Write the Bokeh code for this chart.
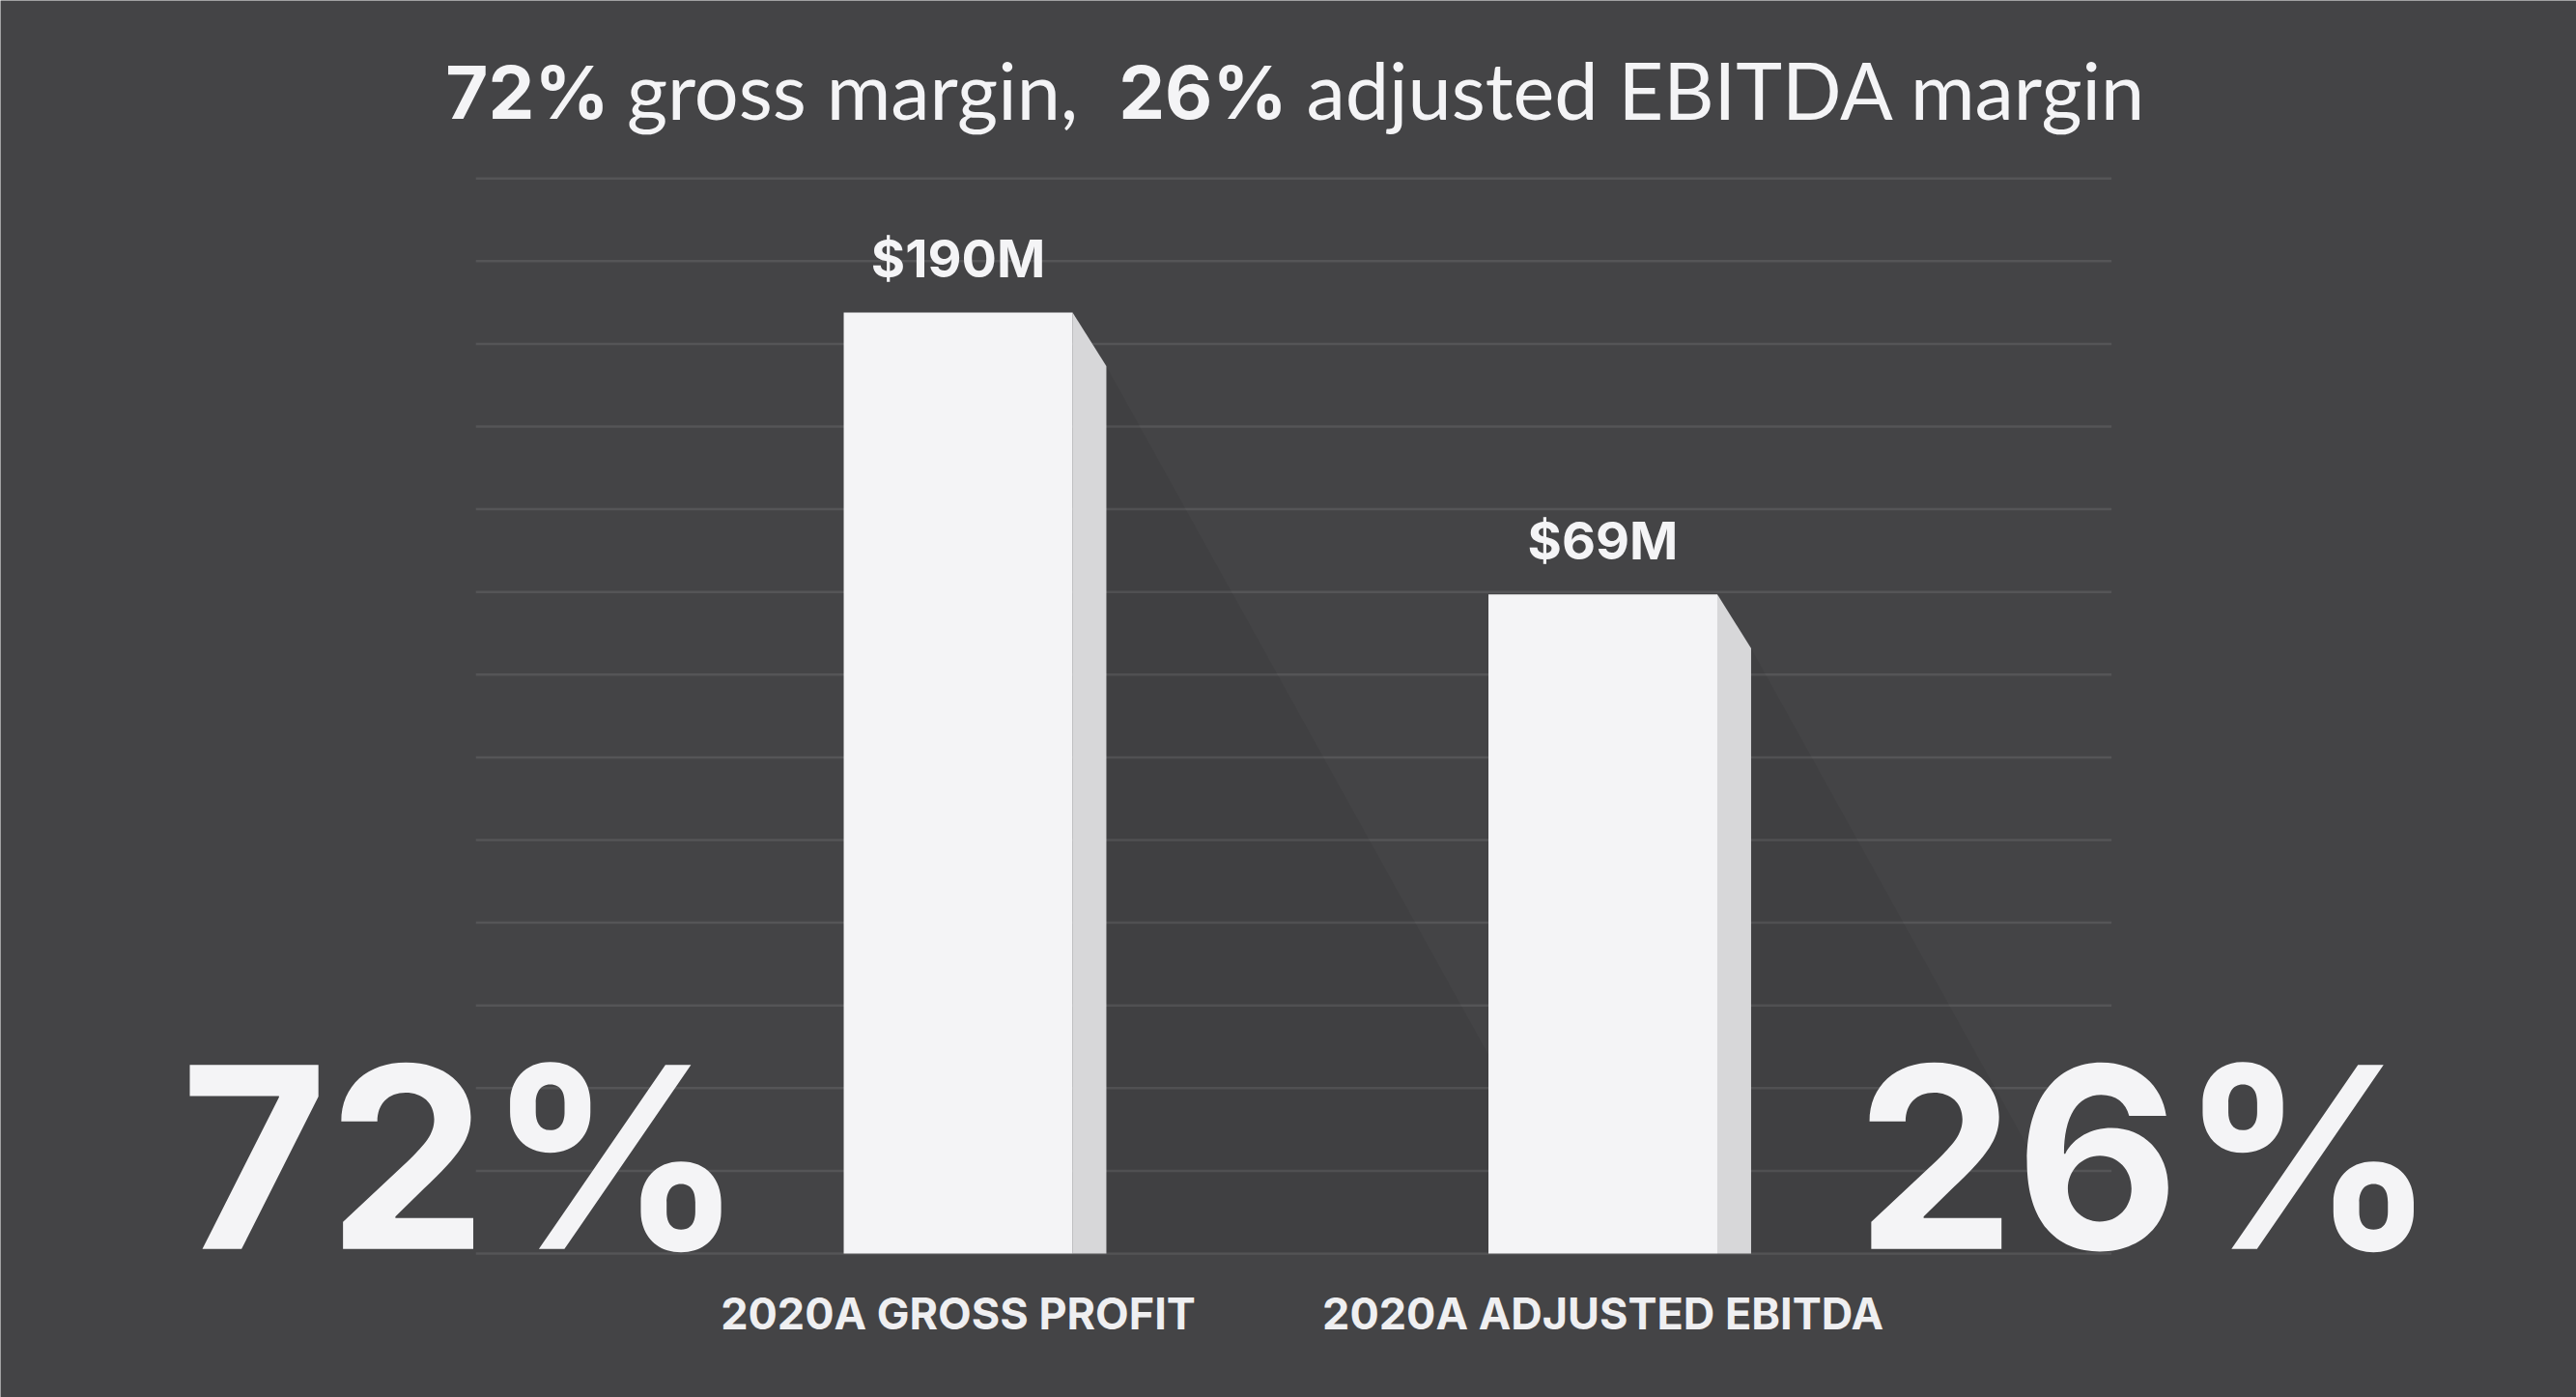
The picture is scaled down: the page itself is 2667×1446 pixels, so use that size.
import numpy as np
from bokeh.plotting import figure
from bokeh.models import Range1d
from bokeh.core.properties import value
from bokeh.embed import file_html
from bokeh.resources import INLINE

# ---- data ----
categories = ["2020A GROSS PROFIT", "2020A ADJUSTED EBITDA"]
values_musd = [190, 69]                 # $M shown above bars
bar_heights = [11.38, 7.97]             # drawn bar height, in gridline steps
margins_pct = [72, 26]                  # big margin figures
grid_levels = list(range(14))           # horizontal rule lines
title_bold = ["72%", "26%"]
title_plain = ["gross margin,", "adjusted EBITDA margin"]

BG = "#444446"
WHITE = "#f4f4f6"
SIDE = "#d7d7d9"

W, H = 2667, 1446
p = figure(width=W, height=H,
           x_range=Range1d(-1.4854, 2.5101), y_range=Range1d(-1.7407, 15.152),
           output_backend="svg", toolbar_location=None, min_border=0,
           background_fill_color=BG, border_fill_color=BG, outline_line_color=None,
           x_axis_location=None, y_axis_location=None)
p.grid.visible = False

idx = np.arange(len(categories))
heights = np.array(bar_heights)

# grid lines
gx0, gx1 = -0.748, 1.789
p.segment(x0=[gx0] * len(grid_levels), x1=[gx1] * len(grid_levels),
          y0=grid_levels, y1=grid_levels, line_color="#555557", line_width=2.5)

# bar geometry (style)
bw = 0.355
depth = 0.0524
drop = 0.65
k = 0.0712

xr = idx + bw / 2
# soft diagonal shadows
sxs, sys = [], []
for x, h in zip(xr, heights):
    xs0 = x + depth
    yt = h - drop
    sxs.append([x, xs0, xs0 + yt * k, x])
    sys.append([h, yt, 0, 0])
p.patches(sxs, sys, fill_color="black", fill_alpha=0.05, line_color=None)

# bar sides
pxs, pys = [], []
for x, h in zip(xr, heights):
    pxs.append([x, x + depth, x + depth, x])
    pys.append([h, h - drop, 0, 0])
p.patches(pxs, pys, fill_color=SIDE, line_color=None)

# bar fronts
p.vbar(x=idx, top=heights, bottom=0, width=bw, fill_color=WHITE, line_color=None)

# value labels
p.text(x=idx, y=heights + 0.654, text=[f"${v}M" for v in values_musd],
       text_font=value("Inter"), text_font_style="bold", text_font_size="54px",
       text_color=WHITE, text_align="center", text_baseline="alphabetic")

# category labels
p.text(x=idx, y=[-0.724] * len(categories), text=categories,
       text_font=value("Inter"), text_font_style="bold", text_font_size="45px",
       text_color="#efeff1", text_align="center", text_baseline="alphabetic")

# big margin figures
p.text(x=[-0.332], y=[1.17], text=[f"{margins_pct[0]}%"],
       text_font=value("Inter"), text_font_style="bold", text_font_size="262px",
       text_color=WHITE, text_align="right", text_baseline="alphabetic")
p.text(x=[1.3925], y=[1.17], text=[f"{margins_pct[1]}%"],
       text_font=value("Inter"), text_font_style="bold", text_font_size="262px",
       text_color=WHITE, text_align="left", text_baseline="alphabetic")

# title
p.text(x=[-0.795, 0.249], y=[14.05, 14.05], text=title_bold,
       text_font=value("Inter"), text_font_style="bold", text_font_size="76px",
       text_color=WHITE, text_align="left", text_baseline="alphabetic")
p.text(x=[-0.514, 0.540], y=[14.08, 14.08], text=title_plain,
       text_font=value("Lato"), text_font_style="normal", text_font_size="81px",
       text_color=WHITE, text_align="left", text_baseline="alphabetic")

open("out.html", "w").write(file_html(p, INLINE))
